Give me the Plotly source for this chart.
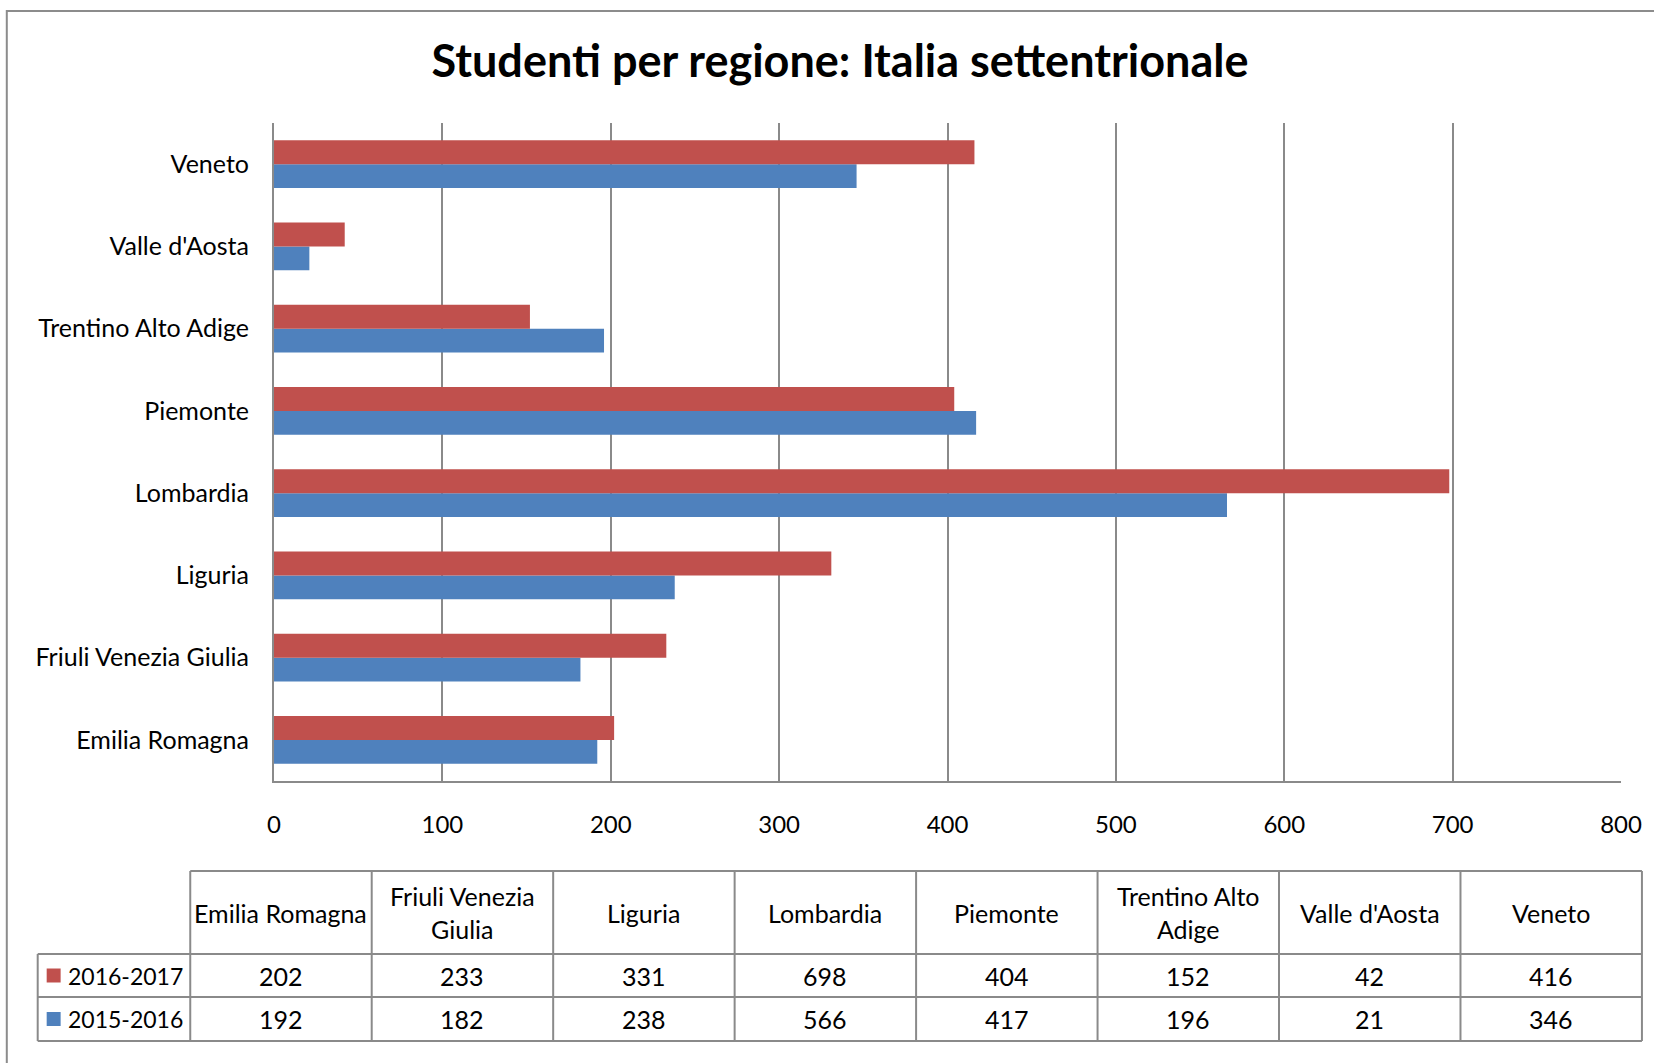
import plotly.graph_objects as go

# Dati
regioni = ["Emilia Romagna", "Friuli Venezia Giulia", "Liguria", "Lombardia",
           "Piemonte", "Trentino Alto Adige", "Valle d'Aosta", "Veneto"]
intestazioni = ["Emilia Romagna", "Friuli Venezia<br>Giulia", "Liguria", "Lombardia",
                "Piemonte", "Trentino Alto<br>Adige", "Valle d'Aosta", "Veneto"]
anni = ["2016-2017", "2015-2016"]
studenti_1617 = [202, 233, 331, 698, 404, 152, 42, 416]
studenti_1516 = [192, 182, 238, 566, 417, 196, 21, 346]
colori = {"2016-2017": "#C0504D", "2015-2016": "#4F81BD"}

W, H = 1654, 1063
L, R, T, B = 274, 29, 123, 282
PW, PH = W - L - R, H - T - B
FONT = "Lato"
GRID = "#8a8a8a"


def px(x):
    return (x - L) / PW


def py(y):
    return (H - B - y) / PH


fig = go.Figure()
fig.add_trace(go.Bar(y=regioni, x=studenti_1516, orientation="h", name="2015-2016",
                     marker_color=colori["2015-2016"], marker_line_width=0))
fig.add_trace(go.Bar(y=regioni, x=studenti_1617, orientation="h", name="2016-2017",
                     marker_color=colori["2016-2017"], marker_line_width=0))

fig.update_layout(
    width=W, height=H,
    margin=dict(l=L, r=R, t=T, b=B),
    paper_bgcolor="white", plot_bgcolor="white",
    barmode="group", bargap=0.42, bargroupgap=0,
    showlegend=False,
    font=dict(family=FONT, size=25, color="black"),
    title=dict(text="<b>Studenti per regione: Italia settentrionale</b>",
               xref="container", x=840 / W, xanchor="center",
               y=1 - 61 / H, yanchor="middle",
               font=dict(family=FONT, size=45, color="black")),
)
fig.update_xaxes(range=[0, 800], dtick=100, showgrid=True, gridcolor=GRID, gridwidth=2,
                 showline=True, linecolor=GRID, linewidth=2, zeroline=False,
                 ticks="", ticklabelstandoff=21, tickfont=dict(size=24))
fig.update_yaxes(categoryorder="array", categoryarray=regioni, showgrid=False,
                 showline=True, linecolor=GRID, linewidth=2, ticks="",
                 ticklabelstandoff=18, tickfont=dict(size=25))

# Tabella dati
shapes = []
annotations = []
col_left, col_w = 190, 182
leg_left = 37
rows = [871, 954, 997, 1041]
table_right = col_left + col_w * len(regioni)
line = dict(color=GRID, width=2)


def hline(x0, x1, y):
    shapes.append(dict(type="line", xref="paper", yref="paper",
                       x0=px(x0), x1=px(x1), y0=py(y), y1=py(y), line=line))


def vline(x, y0, y1):
    shapes.append(dict(type="line", xref="paper", yref="paper",
                       x0=px(x), x1=px(x), y0=py(y0), y1=py(y1), line=line))


hline(col_left, table_right, rows[0])
for y in rows[1:]:
    hline(leg_left, table_right, y)
vline(leg_left, rows[1], rows[3])
for i in range(len(regioni) + 1):
    vline(col_left + i * col_w, rows[0], rows[3])

for i, testo in enumerate(intestazioni):
    annotations.append(dict(text=testo, xref="paper", yref="paper",
                            x=px(col_left + (i + 0.5) * col_w), y=py((rows[0] + rows[1]) / 2),
                            xanchor="center", yanchor="middle", showarrow=False,
                            font=dict(size=25)))

serie = {"2016-2017": studenti_1617, "2015-2016": studenti_1516}
for r, anno in enumerate(anni):
    yc = (rows[r + 1] + rows[r + 2]) / 2
    shapes.append(dict(type="rect", xref="paper", yref="paper",
                       x0=px(46), x1=px(60), y0=py(yc - 7), y1=py(yc + 7),
                       fillcolor=colori[anno], line_width=0))
    annotations.append(dict(text=anno, xref="paper", yref="paper",
                            x=px(65), y=py(yc), xanchor="left", yanchor="middle",
                            showarrow=False, font=dict(size=23)))
    for i, v in enumerate(serie[anno]):
        annotations.append(dict(text=str(v), xref="paper", yref="paper",
                                x=px(col_left + (i + 0.5) * col_w), y=py(yc),
                                xanchor="center", yanchor="middle", showarrow=False,
                                font=dict(size=25)))

# Cornice esterna
shapes.append(dict(type="rect", xref="paper", yref="paper",
                   x0=px(6), x1=px(W + 10), y0=py(11), y1=py(H + 10),
                   line=dict(color="#8c8c8c", width=2), fillcolor="rgba(0,0,0,0)"))

fig.update_layout(shapes=shapes, annotations=annotations)
fig.write_html("out.html", config={"displayModeBar": False},
               post_script="document.body.style.margin='0';")
